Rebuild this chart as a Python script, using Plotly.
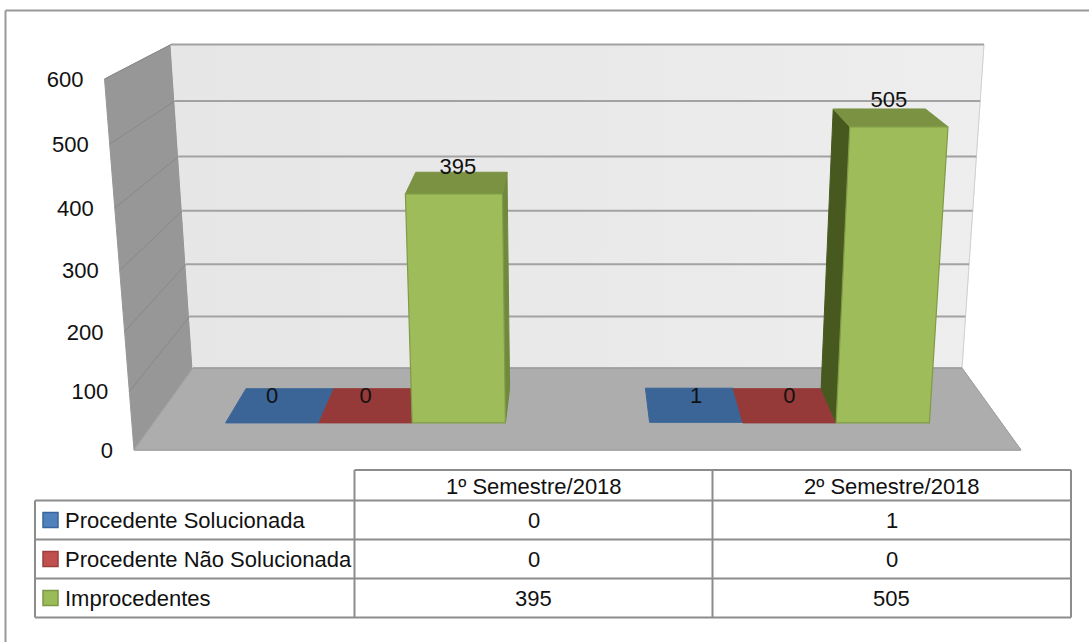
import plotly.graph_objects as go

# ---- data ----
categories = ["1º Semestre/2018", "2º Semestre/2018"]
series_names = ["Procedente Solucionada", "Procedente Não Solucionada", "Improcedentes"]
procedente_solucionada = [0, 1]
procedente_nao_solucionada = [0, 0]
improcedentes = [395, 505]
y_ticks = [0, 100, 200, 300, 400, 500, 600]

series_values = [procedente_solucionada, procedente_nao_solucionada, improcedentes]

FONT = "Liberation Sans, Arial, sans-serif"
FS = 22
Y_MAX = 600.0

# ---- 3D projection (three-point perspective) ----
AX = 887.0
BY = -0.06234
CZ = 0.1534
OX, OY = 134.0, 450.0
VY = (577.5, 6030.0)
VZ = (577.5, -166.0)


def proj(x, v, z):
    y = v / Y_MAX
    w = 1 + BY * y + CZ * z
    px = OX + AX * x + BY * y * VY[0] + CZ * z * VZ[0]
    py = OY + BY * y * VY[1] + CZ * z * VZ[1]
    return px / w, py / w


fig = go.Figure()


def poly(points, fill, line=None, width=1, **kw):
    xs = [p[0] for p in points] + [points[0][0]]
    ys = [p[1] for p in points] + [points[0][1]]
    fig.add_trace(go.Scatter(x=xs, y=ys, mode="lines", fill="toself", fillcolor=fill,
                             line=dict(color=line or fill, width=width), hoverinfo="skip",
                             showlegend=False, **kw))


def seg(a, b, color, width):
    fig.add_trace(go.Scatter(x=[a[0], b[0]], y=[a[1], b[1]], mode="lines",
                             line=dict(color=color, width=width), hoverinfo="skip",
                             showlegend=False))


# walls and floor
poly([proj(0, 0, 0), proj(0, Y_MAX, 0), proj(0, Y_MAX, 1), proj(0, 0, 1)], "#979797")
poly([proj(0, 0, 1), proj(0, Y_MAX, 1), proj(1, Y_MAX, 1), proj(1, 0, 1)], "#E9E9E9", "#E9E9E9", 1,
     fillgradient=dict(type="horizontal",
                       colorscale=[[0, "#E6E6E6"], [0.5, "#E9E9E9"], [1, "#EEEEEE"]]))
seg(proj(1, Y_MAX, 1), proj(1, 0, 1), "#D0D0D0", 1)
poly([proj(0, 0, 0), proj(0, 0, 1), proj(1, 0, 1), proj(1, 0, 0)], "#ADADAD")
seg(proj(0, 0, 0), proj(1, 0, 0), "#A0A0A0", 1.5)
seg(proj(0, 0, 1), proj(1, 0, 1), "#9A9A9A", 1.5)
seg(proj(0, 0, 0), proj(0, 0, 1), "#A0A0A0", 1)
seg(proj(1, 0, 0), proj(1, 0, 1), "#A0A0A0", 1)
for t in y_ticks[1:]:
    seg(proj(0, t, 1), proj(1, t, 1), "#A2A2A2", 2)
    seg(proj(0, t, 0), proj(0, t, 1), "#888888", 1)

# bars
BAR_W = 0.11
CAT_W = 0.5
PAD = 0.085
Z0, Z1 = 0.30, 0.72
colors = [
    dict(top="#3B6597", front="#4F81BD"),
    dict(top="#953A38", front="#C0504D"),
    dict(top="#7A9242", front="#9EBD5A", right="#6F8A3C", left="#48591F"),
]
label_x, label_y, label_t = [], [], []
for c in range(len(categories)):
    for s, vals in enumerate(series_values):
        v = vals[c]
        x0 = c * CAT_W + PAD + s * BAR_W
        x1 = x0 + BAR_W
        col = colors[s]
        if v > 5:
            if proj(x1, 0, Z0)[0] < VZ[0]:
                poly([proj(x1, 0, Z0), proj(x1, v, Z0), proj(x1, v, Z1), proj(x1, 0, Z1)],
                     col.get("right", col["top"]))
            else:
                poly([proj(x0, 0, Z0), proj(x0, v, Z0), proj(x0, v, Z1), proj(x0, 0, Z1)],
                     col.get("left", col["top"]))
        poly([proj(x0, v, Z0), proj(x0, v, Z1), proj(x1, v, Z1), proj(x1, v, Z0)], col["top"])
        if v > 5:
            poly([proj(x0, 0, Z0), proj(x0, v, Z0), proj(x1, v, Z0), proj(x1, 0, Z0)],
                 col["front"], "#7F9B47", 1.2)
        zl = (Z0 + Z1) / 2 if v > 5 else Z0
        lx = proj((x0 + x1) / 2, v, zl)[0]
        ly = proj((x0 + x1) / 2, v, Z0)[1]
        label_x.append(lx)
        label_y.append(ly - 25)
        label_t.append(str(v))

fig.add_trace(go.Scatter(x=label_x, y=label_y, text=label_t, mode="text", textposition="middle center",
                         textfont=dict(family=FONT, size=FS, color="#111111"),
                         hoverinfo="skip", showlegend=False))

# value axis labels
tick_pts = [proj(0, t, 0) for t in y_ticks]
fig.add_trace(go.Scatter(x=[p[0] - 21 for p in tick_pts], y=[p[1] + 2.5 for p in tick_pts],
                         text=[str(t) for t in y_ticks], mode="text", textposition="middle left",
                         textfont=dict(family=FONT, size=FS, color="#111111"),
                         hoverinfo="skip", showlegend=False))

# data table
TX0, TX1, TX2, TX3 = 35, 354.5, 712.5, 1071
TY = [470, 500.5, 539.5, 578.5, 617.5]
GRID = "#8C8C8C"
shapes = []


def tline(x0, y0, x1, y1):
    shapes.append(dict(type="line", x0=x0, y0=y0, x1=x1, y1=y1, xref="x", yref="y",
                       line=dict(color=GRID, width=2)))


tline(TX1, TY[0], TX3, TY[0])
for y in TY[1:]:
    tline(TX0, y, TX3, y)
tline(TX0, TY[1], TX0, TY[4])
tline(TX1, TY[0], TX1, TY[4])
tline(TX2, TY[0], TX2, TY[4])
tline(TX3, TY[0], TX3, TY[4])

# outer frame: only the top and left edges are inside the picture
for x0, y0, x1, y1 in [(5.5, 10.5, 1089, 10.5), (5.5, 10.5, 5.5, 642)]:
    shapes.append(dict(type="line", x0=x0, y0=y0, x1=x1, y1=y1, xref="x", yref="y",
                       line=dict(color="#999999", width=2), layer="below"))

key_fill = ["#4F81BD", "#C0504D", "#9BBB59"]
key_line = ["#3A659A", "#9B3F3D", "#7C9644"]
ann = []
for i, name in enumerate(series_names):
    yc = (TY[i + 1] + TY[i + 2]) / 2
    shapes.append(dict(type="rect", x0=43, x1=58, y0=yc - 7.5, y1=yc + 7.5, xref="x", yref="y",
                       fillcolor=key_fill[i], line=dict(color=key_line[i], width=1.5)))
    ann.append(dict(x=62.5, y=yc, text=name, xanchor="left", yanchor="middle"))
    for c in range(2):
        ann.append(dict(x=(TX1 + TX2) / 2 if c == 0 else (TX2 + TX3) / 2, y=yc,
                        text=str(series_values[i][c]), xanchor="center", yanchor="middle"))
for c, cat in enumerate(categories):
    ann.append(dict(x=(TX1 + TX2) / 2 if c == 0 else (TX2 + TX3) / 2, y=(TY[0] + TY[1]) / 2 + 1,
                    text=cat, xanchor="center", yanchor="middle"))
for a in ann:
    a.update(xref="x", yref="y", showarrow=False, font=dict(family=FONT, size=FS, color="#111111"))

fig.update_layout(
    width=1089, height=642, autosize=False,
    margin=dict(l=0, r=0, t=0, b=0),
    paper_bgcolor="white", plot_bgcolor="white",
    showlegend=False, shapes=shapes, annotations=ann,
    xaxis=dict(range=[0, 1089], visible=False, fixedrange=True),
    yaxis=dict(range=[642, 0], visible=False, fixedrange=True),
)
fig.write_html("out.html", config=dict(displayModeBar=False),
               post_script="document.body.style.margin='0';document.body.style.overflow='hidden';")
